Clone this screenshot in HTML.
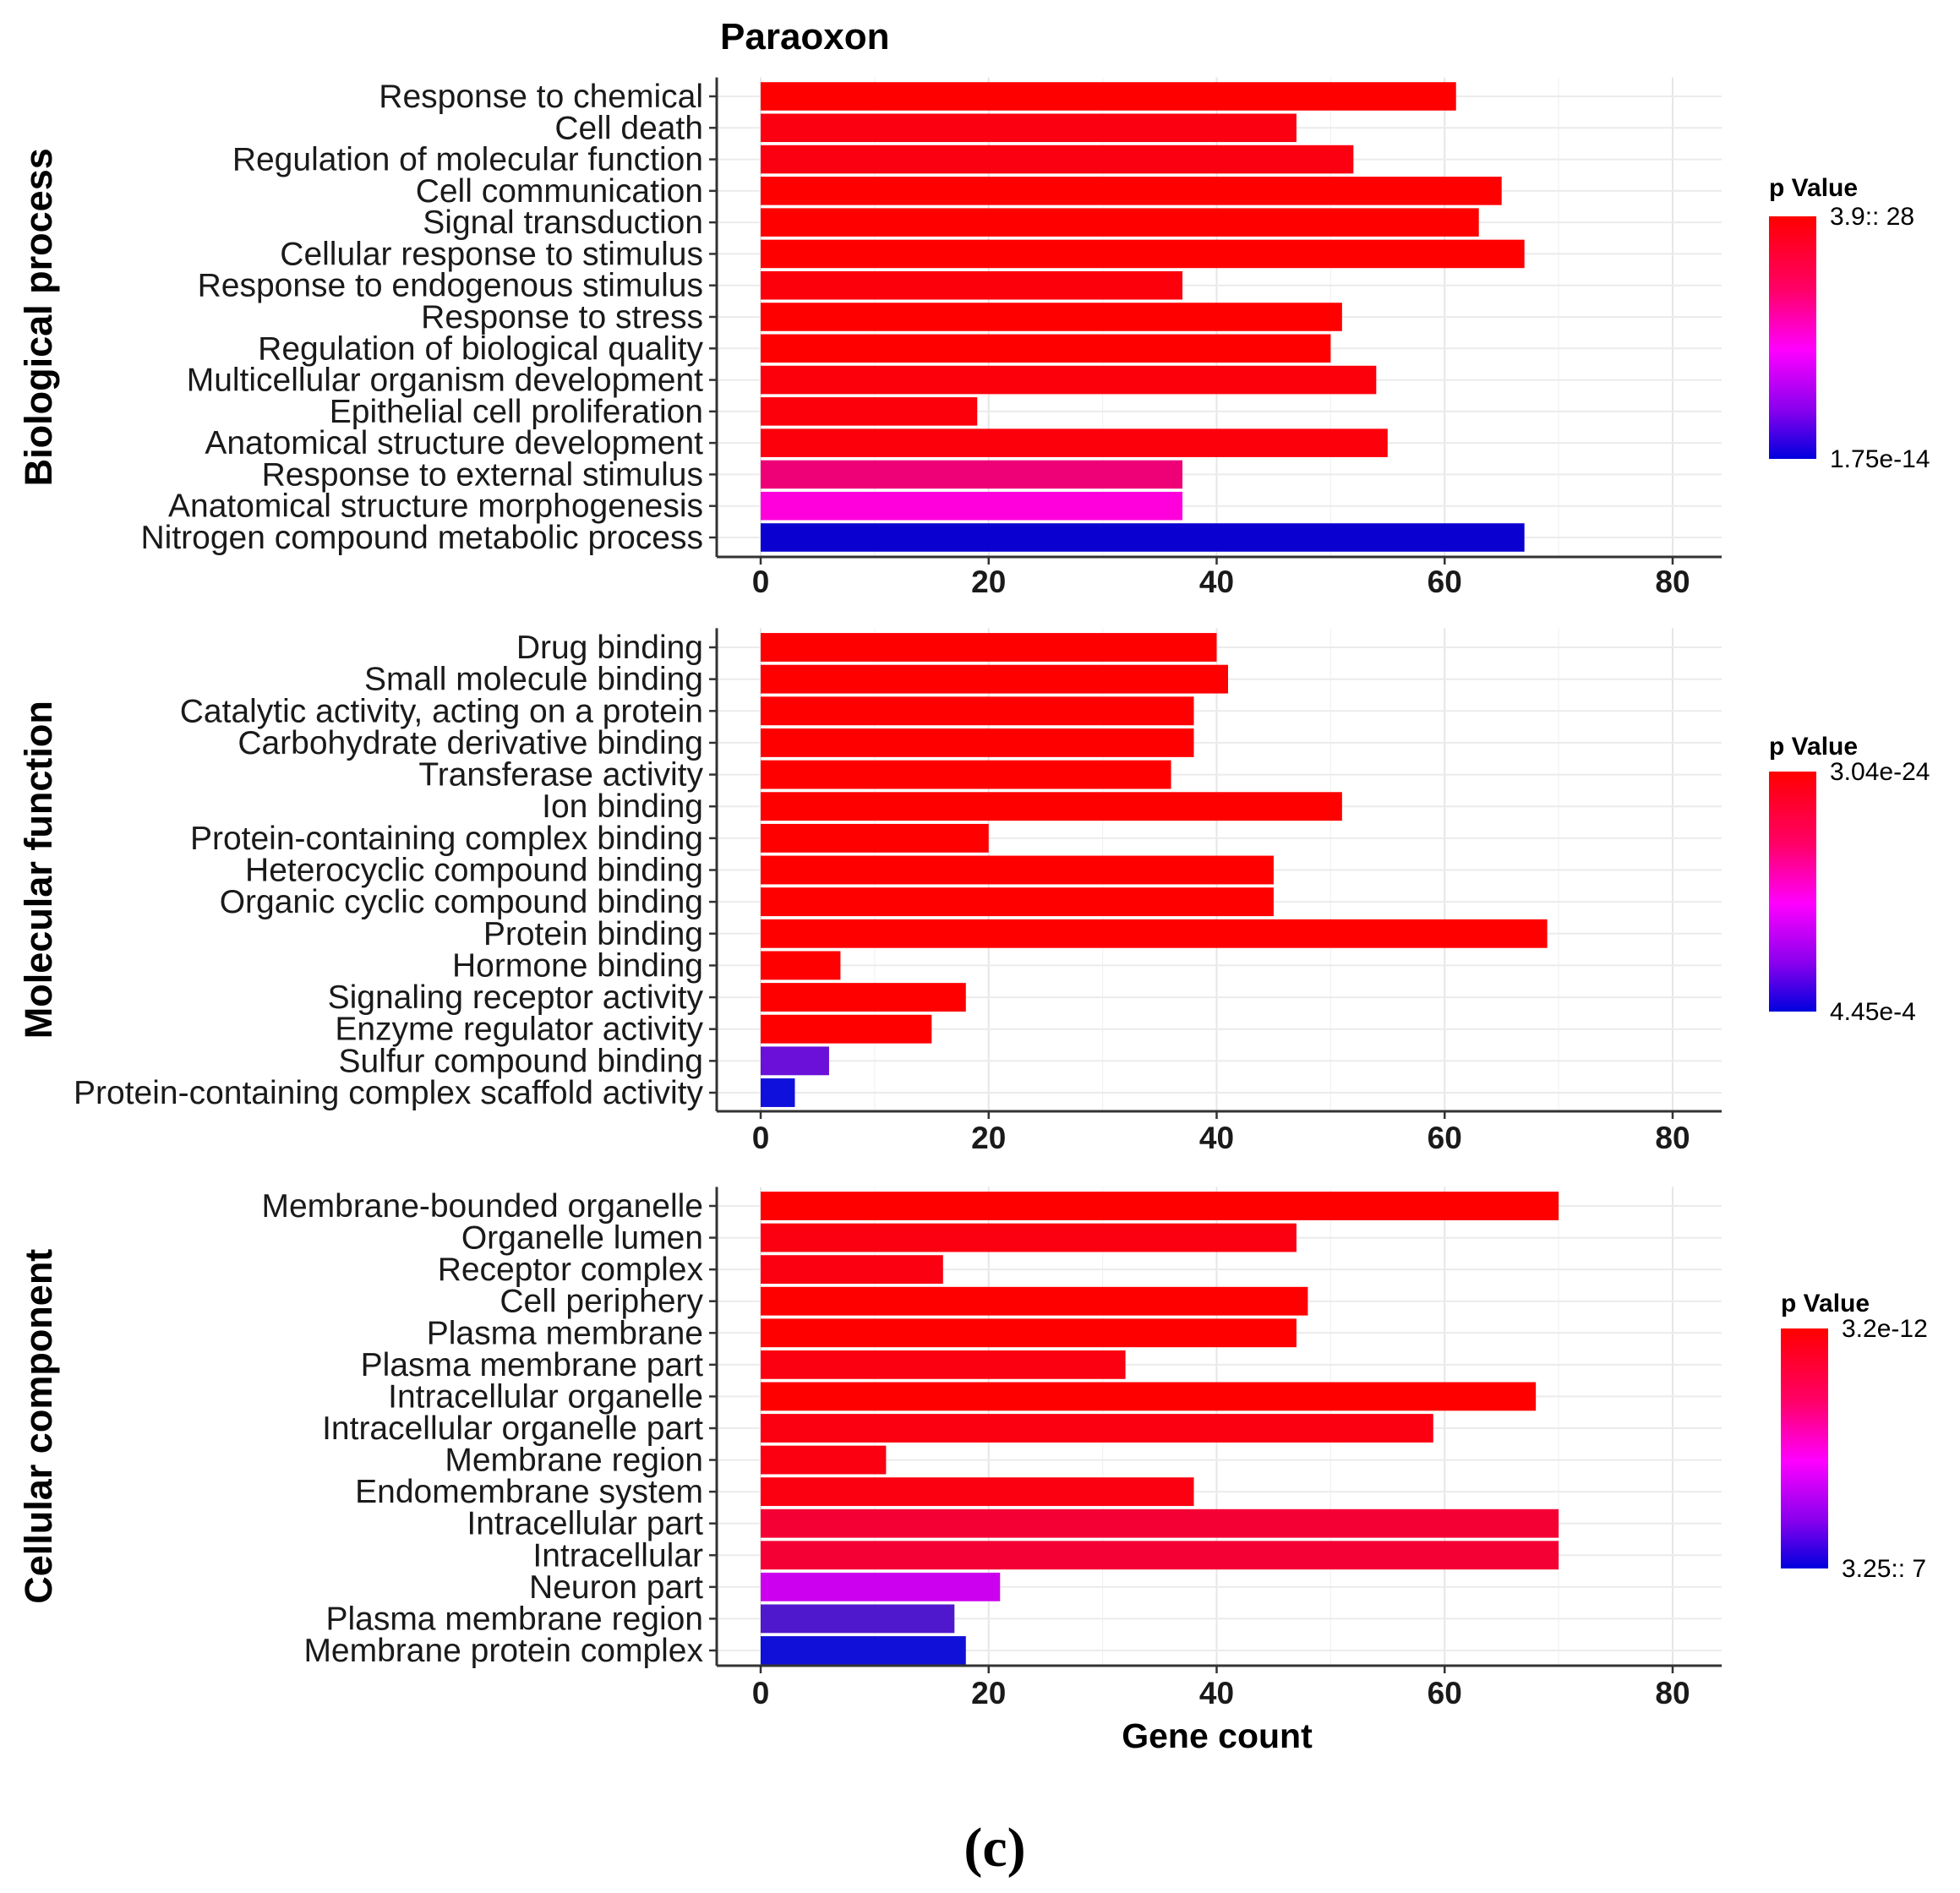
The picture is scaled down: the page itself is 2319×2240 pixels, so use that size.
<!DOCTYPE html>
<html><head><meta charset="utf-8"><style>
html,body{margin:0;padding:0;background:#fff;}
svg{display:block;font-family:"Liberation Sans",sans-serif;}
</style></head><body>
<svg id="chart" width="2319" height="2240" viewBox="0 0 2319 2240" xmlns="http://www.w3.org/2000/svg">
<rect width="2319" height="2240" fill="#fff"/>
<text x="852" y="58" font-size="44" font-weight="bold">Paraoxon</text>
<g id="panels"></g>
<text x="1440" y="2068" font-size="41" font-weight="bold" text-anchor="middle">Gene count</text>
<text x="1177" y="2208" font-size="66" font-family="Liberation Serif, serif" font-weight="bold" text-anchor="middle">(c)</text>
</svg>
<script>
const bpTerms=["Response to chemical","Cell death","Regulation of molecular function","Cell communication","Signal transduction","Cellular response to stimulus","Response to endogenous stimulus","Response to stress","Regulation of biological quality","Multicellular organism development","Epithelial cell proliferation","Anatomical structure development","Response to external stimulus","Anatomical structure morphogenesis","Nitrogen compound metabolic process"];
const bpCounts=[61,47,52,65,63,67,37,51,50,54,19,55,37,37,67];
const bpColors=["#ff0000","#fb0010","#fb0010","#ff0000","#ff0000","#ff0000","#fc000c","#ff0000","#ff0000","#fc000c","#fc000c","#fc000c","#ee0077","#ff00dd","#0a00d0"];
const mfTerms=["Drug binding","Small molecule binding","Catalytic activity, acting on a protein","Carbohydrate derivative binding","Transferase activity","Ion binding","Protein-containing complex binding","Heterocyclic compound binding","Organic cyclic compound binding","Protein binding","Hormone binding","Signaling receptor activity","Enzyme regulator activity","Sulfur compound binding","Protein-containing complex scaffold activity"];
const mfCounts=[40,41,38,38,36,51,20,45,45,69,7,18,15,6,3];
const mfColors=["#ff0000","#ff0000","#ff0000","#ff0000","#ff0000","#ff0000","#ff0000","#ff0000","#ff0000","#ff0000","#ff0000","#ff0000","#ff0000","#6a10d8","#1010dd"];
const ccTerms=["Membrane-bounded organelle","Organelle lumen","Receptor complex","Cell periphery","Plasma membrane","Plasma membrane part","Intracellular organelle","Intracellular organelle part","Membrane region","Endomembrane system","Intracellular part","Intracellular","Neuron part","Plasma membrane region","Membrane protein complex"];
const ccCounts=[70,47,16,48,47,32,68,59,11,38,70,70,21,17,18];
const ccColors=["#ff0000","#fb0010","#fb0010","#ff0000","#ff0000","#fb0010","#ff0000","#fb0010","#fb0010","#fb0010","#f50035","#f50035","#cc00ee","#5018cc","#1010d8"];
const xTicks=[0,20,40,60,80];
const legendHigh=["3.9:: 28","3.04e-24","3.2e-12"];
const legendLow=["1.75e-14","4.45e-4","3.25:: 7"];

const NS="http://www.w3.org/2000/svg";
const root=document.getElementById('panels');
function mk(tag,attrs,parent,text){const e=document.createElementNS(NS,tag);for(const k in attrs)e.setAttribute(k,attrs[k]);if(text!==undefined)e.textContent=text;(parent||root).appendChild(e);return e;}
const X0=900,X80=1979;
function xs(v){return X0+(X80-X0)*v/80;}
const panels=[
 {name:"biological-process",title:"Biological process",terms:bpTerms,counts:bpCounts,colors:bpColors,first:114,last:636,axis:659,tick:701,leg:{x:2093,top:256,bot:543,ty:232,hi:0}},
 {name:"molecular-function",title:"Molecular function",terms:mfTerms,counts:mfCounts,colors:mfColors,first:766,last:1293,axis:1315,tick:1359,leg:{x:2093,top:913,bot:1197,ty:893,hi:1}},
 {name:"cellular-component",title:"Cellular component",terms:ccTerms,counts:ccCounts,colors:ccColors,first:1427,last:1953,axis:1971,tick:2016,leg:{x:2107,top:1572,bot:1856,ty:1552,hi:2}}
];
const left=848,right=2037;
panels.forEach((p,pi)=>{
 const g=mk('g',{});
 
 
 const n=p.terms.length, step=(p.last-p.first)/(n-1);
 const top=p.first-0.6*step, bottom=p.axis;
 for(let v=0;v<=85;v+=10){const x=xs(v);if(x>right)break;
  const l=mk('line',{x1:x,x2:x,y1:top,y2:bottom,stroke:v%20===0?'#e6e6e6':'#f2f2f2','stroke-width':v%20===0?2:1.2},g);
  
  }
 p.terms.forEach((t,i)=>{const y=p.first+i*step;
  const l=mk('line',{x1:left,x2:right,y1:y,y2:y,stroke:'#ebebeb','stroke-width':2},g);
  
  });
 p.terms.forEach((t,i)=>{const y=p.first+i*step;const h=step*0.9;
  const r=mk('rect',{x:xs(0),y:y-h/2,width:xs(p.counts[i])-xs(0),height:h,fill:p.colors[i]},g);
  
  
  const tk=mk('line',{x1:left-9,x2:left,y1:y,y2:y,stroke:'#333','stroke-width':2.5},g);
  
  
  const tx=mk('text',{x:left-16,y:y+13,'font-size':39,'text-anchor':'end',fill:'#1a1a1a'},g,t);
  
  });
 const ya=mk('line',{x1:left,x2:left,y1:top,y2:bottom,stroke:'#333','stroke-width':3},g);
 
 
 const xa=mk('line',{x1:left,x2:right,y1:bottom,y2:bottom,stroke:'#333','stroke-width':3},g);
 
 
 xTicks.forEach(v=>{
  const tk=mk('line',{x1:xs(v),x2:xs(v),y1:bottom,y2:bottom+9,stroke:'#333','stroke-width':2.5},g);
  
  
  const tl=mk('text',{x:xs(v),y:p.tick,'font-size':37,'font-weight':'bold','text-anchor':'middle',fill:'#1a1a1a'},g,String(v));
  
  });
 const cy=(top+bottom)/2;
 const st=mk('text',{x:0,y:0,'font-size':45,'font-weight':'bold','text-anchor':'middle',transform:`translate(61,${cy}) rotate(-90)`},g,p.title);
 
 
 const L=p.leg;
 const gid='grad'+pi;
 const defs=mk('defs',{},g);
 const lg=mk('linearGradient',{id:gid,x1:0,y1:0,x2:0,y2:1},defs);
 [['0','#ff0000'],['0.3','#ff0066'],['0.55','#ff00ff'],['0.8','#8800ee'],['1','#0000dd']].forEach(s=>mk('stop',{offset:s[0],'stop-color':s[1]},lg));
 const lt=mk('text',{x:L.x,y:L.ty,'font-size':30,'font-weight':'bold'},g,'p Value');
 
 
 const cb=mk('rect',{x:L.x,y:L.top,width:56,height:L.bot-L.top,fill:`url(#${gid})`},g);
 
 
 const hi=mk('text',{x:L.x+72,y:L.top+10,'font-size':30},g,legendHigh[L.hi]);
 
 
 const lo=mk('text',{x:L.x+72,y:L.bot+10,'font-size':30},g,legendLow[L.hi]);
 
 
});
</script>
</body></html>
